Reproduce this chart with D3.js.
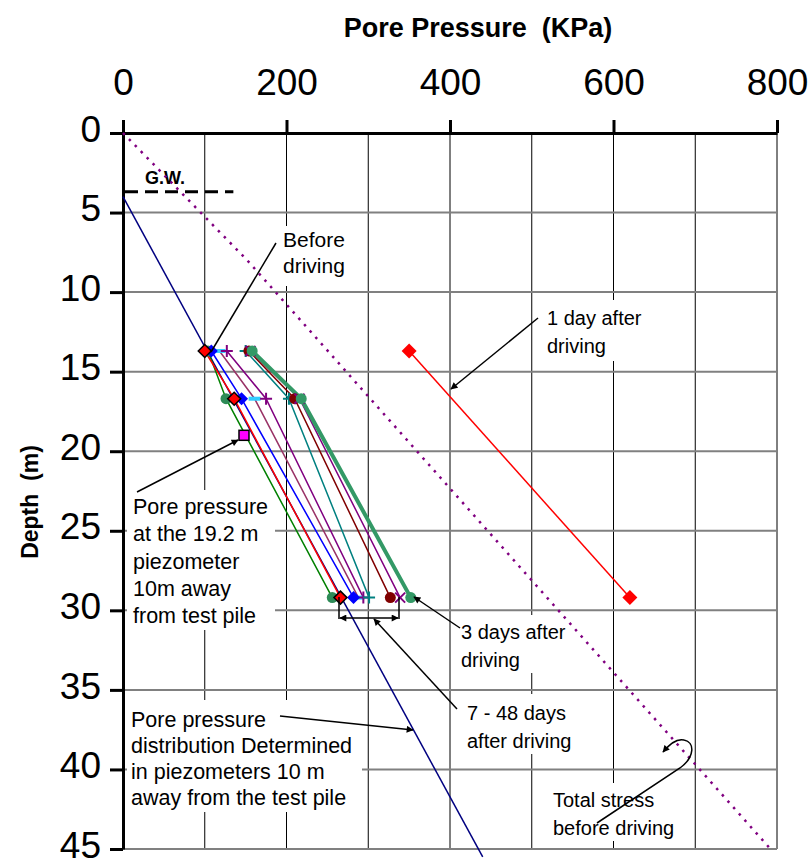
<!DOCTYPE html>
<html lang="en">
<head>
<meta charset="UTF-8">
<title>Pore Pressure vs Depth</title>
<script src="https://d3js.org/d3.v7.min.js"></script>
<style>
  body { margin: 0; background: #fff; }
  text { font-family: Arial, "Liberation Sans", sans-serif; }
</style>
</head>
<body>
<svg width="808" height="865"></svg>
<script>
// piezometer depths (m)
const depths = [13.7, 16.7, 29.2];

// pore pressure readings at each depth (KPa)
const readGreen    = [104, 126, 256];
const readBefore   = [100, 136, 266];
const readBlue     = [108, 145, 282];
const readMauve    = [118, 161, 288];
const readPlus     = [127, 175, 294];
const readTeal     = [150, 203, 301];
const readDarkRed  = [154, 210, 327];
const readCross    = [156, 216, 339];
const read3Days    = [158, 218, 352];

// 1 day after driving
const day1Depths = [13.7, 29.2];
const day1Read   = [350, 620];

// piezometer 10 m away
const distDepths = [4, 45.5];
const distRead   = [0, 440];

// total stress before driving
const totalDepths = [0, 8, 45];
const totalRead   = [0, 152, 792];

// single 19.2 m piezometer reading
const piezoDepth = 19;
const piezoRead  = 148;

// ground water level
const gwDepth = 3.7;
const gwRead  = [0, 135];

const xTicks = [0, 200, 400, 600, 800];
const yTicks = [0, 5, 10, 15, 20, 25, 30, 35, 40, 45];

const svg = d3.select("svg");

const x = d3.scaleLinear().domain([0, 800]).range([123, 777]);
const y = d3.scaleLinear().domain([0, 45]).range([133, 849]);

// arrow head
const defs = svg.append("defs");
defs.append("marker")
    .attr("id", "arr")
    .attr("viewBox", "0 0 10 10")
    .attr("refX", 9).attr("refY", 5)
    .attr("markerWidth", 9).attr("markerHeight", 7)
    .attr("markerUnits", "userSpaceOnUse")
    .attr("orient", "auto-start-reverse")
    .append("path")
    .attr("d", "M0,0 L10,5 L0,10 Z")
    .attr("fill", "#000");

// gridlines
svg.append("g").selectAll("line")
   .data(d3.range(100, 801, 100))
   .join("line")
   .attr("x1", d => x(d)).attr("x2", d => x(d))
   .attr("y1", y(0)).attr("y2", y(45))
   .attr("stroke", "#000").attr("stroke-width", 1);

svg.append("g").selectAll("line")
   .data(yTicks.slice(1))
   .join("line")
   .attr("x1", x(0)).attr("x2", x(800))
   .attr("y1", d => y(d)).attr("y2", d => y(d))
   .attr("stroke", "#808080").attr("stroke-width", 2);

// white boxes behind the notes (they hide the grid)
const boxes = [
  [278, 226, 74, 60],
  [540, 300, 112, 61],
  [455, 615, 130, 58],
  [458, 694, 138, 60],
  [545, 783, 145, 58],
  [127, 700, 235, 112],
  [127, 490, 148, 140]
];
svg.append("g").selectAll("rect")
   .data(boxes)
   .join("rect")
   .attr("x", d => d[0]).attr("y", d => d[1])
   .attr("width", d => d[2]).attr("height", d => d[3])
   .attr("fill", "#fff");

// axes
const xAxis = svg.append("g")
   .attr("transform", `translate(0,${y(0)})`)
   .call(d3.axisTop(x).tickValues(xTicks).tickSize(13).tickSizeOuter(0).tickPadding(25));
const yAxis = svg.append("g")
   .attr("transform", `translate(${x(0)},0)`)
   .call(d3.axisLeft(y).tickValues(yTicks).tickSize(13).tickSizeOuter(0).tickPadding(9));

[xAxis, yAxis].forEach(g => {
  g.select(".domain").attr("stroke-width", 3);
  g.selectAll(".tick line").attr("stroke-width", 3);
  g.selectAll(".tick text")
   .attr("font-family", "Arial, 'Liberation Sans', sans-serif")
   .attr("font-size", 37)
   .attr("fill", "#000");
});
yAxis.selectAll(".tick text").attr("dy", "0.22em");

// titles
svg.append("text")
   .attr("x", 478).attr("y", 37)
   .attr("text-anchor", "middle")
   .style("white-space", "pre")
   .attr("font-size", 27).attr("font-weight", "bold")
   .text("Pore Pressure  (KPa)");

svg.append("text")
   .attr("transform", "translate(38,502) rotate(-90)")
   .attr("text-anchor", "middle")
   .style("white-space", "pre")
   .attr("font-size", 23).attr("font-weight", "bold")
   .text("Depth  (m)");

// ground water
svg.append("line")
   .attr("x1", x(gwRead[0]) + 2).attr("x2", x(gwRead[1]))
   .attr("y1", y(gwDepth)).attr("y2", y(gwDepth))
   .attr("stroke", "#000").attr("stroke-width", 3)
   .attr("stroke-dasharray", "13,7");
svg.append("text")
   .attr("x", 145).attr("y", 184)
   .attr("font-size", 18).attr("font-weight", "bold")
   .text("G.W.");

const line = d3.line().x(d => x(d[1])).y(d => y(d[0]));
const zip = (a, b) => a.map((v, i) => [v, b[i]]);

// total stress (dotted)
svg.append("path")
   .attr("d", line(zip(totalDepths, totalRead)))
   .attr("fill", "none")
   .attr("stroke", "#800080").attr("stroke-width", 2.5)
   .attr("stroke-dasharray", "2.5,6");

// distribution line
svg.append("path")
   .attr("d", line(zip(distDepths, distRead)))
   .attr("fill", "none")
   .attr("stroke", "#000080").attr("stroke-width", 1.5);

// series styles
const series = [
  { v: readGreen,   color: "#008000", w: 1.5, mk: "circle",  mfill: "#2e8b57" },
  { v: readMauve,   color: "#993366", w: 1.5, mk: "dash",    mfill: "#33ccff" },
  { v: readPlus,    color: "#800080", w: 1.5, mk: "plus",    mfill: "#800080" },
  { v: readTeal,    color: "#008080", w: 1.5, mk: "plus",    mfill: "#008080" },
  { v: readDarkRed, color: "#800000", w: 1.5, mk: "circle",  mfill: "#800000" },
  { v: readCross,   color: "#800080", w: 1.5, mk: "cross",   mfill: "#800080" },
  { v: read3Days,   color: "#339966", w: 4,   mk: "circle",  mfill: "#339966" },
  { v: readBlue,    color: "#0000ff", w: 1.5, mk: "diamond", mfill: "#0000ff" },
  { v: readBefore,  color: "#ff0000", w: 1.5, mk: "diamondB", mfill: "#ff0000" }
];

series.forEach(s => {
  svg.append("path")
     .attr("d", line(zip(depths, s.v)))
     .attr("fill", "none")
     .attr("stroke", s.color).attr("stroke-width", s.w);
});

function drawMarker(g, type, fill, px, py, r) {
  if (type === "circle") {
    g.append("circle").attr("cx", px).attr("cy", py).attr("r", r || 5.5).attr("fill", fill);
  } else if (type === "diamond" || type === "diamondB") {
    const k = r || 6.5;
    g.append("path")
     .attr("d", `M${px},${py - k}L${px + k},${py}L${px},${py + k}L${px - k},${py}Z`)
     .attr("fill", fill)
     .attr("stroke", type === "diamondB" ? "#000" : "none")
     .attr("stroke-width", 1.5);
  } else if (type === "plus") {
    g.append("path")
     .attr("d", `M${px - 6},${py}h12M${px},${py - 6}v12`)
     .attr("stroke", fill).attr("stroke-width", 2);
  } else if (type === "cross") {
    g.append("path")
     .attr("d", `M${px - 5},${py - 5}l10,10M${px - 5},${py + 5}l10,-10`)
     .attr("stroke", fill).attr("stroke-width", 2);
  } else if (type === "dash") {
    g.append("rect").attr("x", px - 6).attr("y", py - 2).attr("width", 12).attr("height", 4).attr("fill", fill);
  } else if (type === "square") {
    g.append("rect").attr("x", px - 5).attr("y", py - 5).attr("width", 10).attr("height", 10)
     .attr("fill", fill).attr("stroke", "#000").attr("stroke-width", 1.5);
  }
}

const mk = svg.append("g");
series.forEach(s => {
  s.v.forEach((v, i) => drawMarker(mk, s.mk, s.mfill, x(v), y(depths[i])));
});

// 1 day after
svg.append("path")
   .attr("d", line(zip(day1Depths, day1Read)))
   .attr("fill", "none")
   .attr("stroke", "#ff0000").attr("stroke-width", 1.5);
day1Read.forEach((v, i) => drawMarker(mk, "diamond", "#ff0000", x(v), y(day1Depths[i]), 7.5));

// 19.2 m piezometer
drawMarker(mk, "square", "#ff00ff", x(piezoRead), y(piezoDepth));

// note text
const notes = [
  { x: 283, y: 247, fs: 21, lh: 26, lines: ["Before", "driving"] },
  { x: 547, y: 325, fs: 20, lh: 28, lines: ["1 day after", "driving"] },
  { x: 461, y: 639, fs: 20, lh: 28, lines: ["3 days after", "driving"] },
  { x: 467, y: 720, fs: 20, lh: 28, lines: ["7 - 48 days", "after driving"] },
  { x: 553, y: 807, fs: 20, lh: 28, lines: ["Total stress", "before driving"] },
  { x: 131, y: 727, fs: 21.5, lh: 26, lines: ["Pore pressure", "distribution Determined", "in piezometers 10 m", "away from the test pile"] },
  { x: 133, y: 514, fs: 21.5, lh: 27.3, lines: ["Pore pressure", "at the 19.2 m", "piezometer", "10m away", "from test pile"] }
];
notes.forEach(n => {
  const t = svg.append("text").attr("font-size", n.fs).attr("fill", "#000");
  n.lines.forEach((l, i) => {
    t.append("tspan").attr("x", n.x).attr("y", n.y + i * n.lh).text(l);
  });
});

// pointers
const ptr = svg.append("g").attr("fill", "none").attr("stroke", "#000").attr("stroke-width", 1.5);
ptr.append("path").attr("d", "M276,243 L211,352");
ptr.append("path").attr("d", "M538,318 L451,389").attr("marker-end", "url(#arr)");
ptr.append("path").attr("d", "M460,628 L414,597").attr("marker-end", "url(#arr)");
ptr.append("path").attr("d", "M457,709 L374,619").attr("marker-end", "url(#arr)");
ptr.append("path").attr("d", "M280,716 L413,730").attr("marker-end", "url(#arr)");
ptr.append("path").attr("d", "M137,492 L238,440").attr("marker-end", "url(#arr)");
ptr.append("path").attr("d", "M597,823 L680,768 C695,757 695,742 684,740 C676,738 669,745 663,752").attr("marker-end", "url(#arr)");

// bracket for 7 - 48 days
ptr.append("path").attr("d", "M339,597 V619 M399,597 V619");
ptr.append("path").attr("d", "M369,618 H340").attr("marker-end", "url(#arr)");
ptr.append("path").attr("d", "M369,618 H398").attr("marker-end", "url(#arr)");
</script>
</body>
</html>
